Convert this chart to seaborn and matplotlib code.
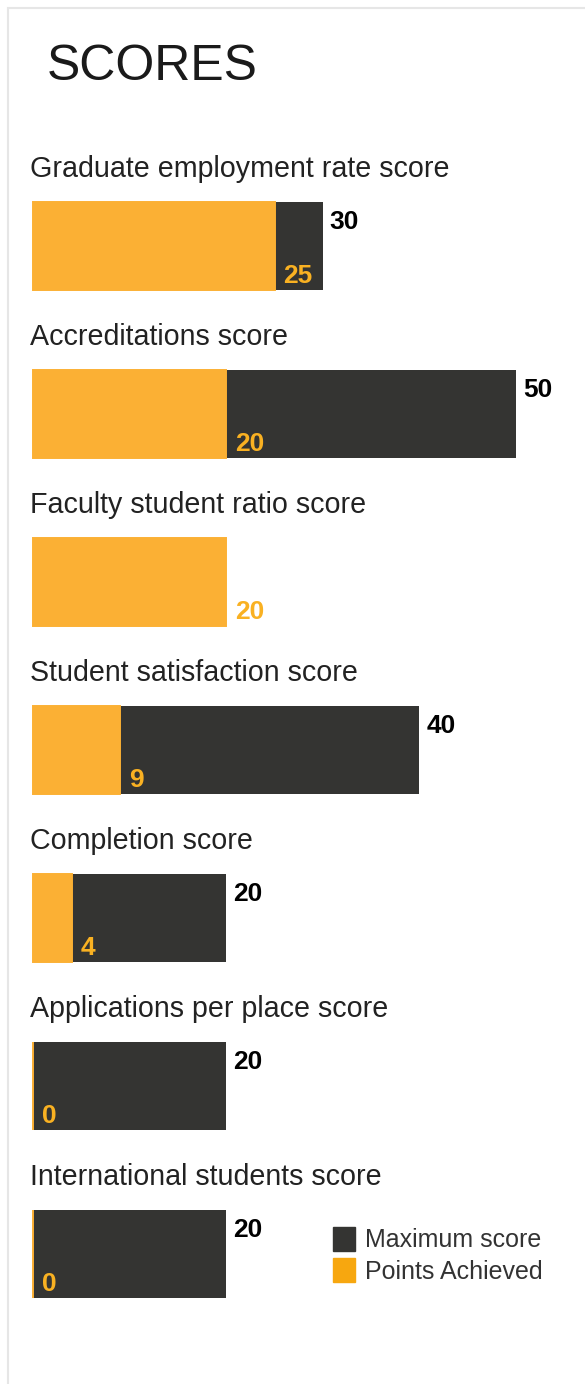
import matplotlib
matplotlib.use("Agg")
import matplotlib.pyplot as plt
from matplotlib.patches import Patch, Rectangle
import seaborn as sns
import pandas as pd

categories = ["Graduate employment rate score", "Accreditations score",
              "Faculty student ratio score", "Student satisfaction score",
              "Completion score", "Applications per place score",
              "International students score"]
max_scores = [30, 50, 20, 40, 20, 20, 20]
achieved = [25, 20, 20, 9, 4, 0, 0]
legend_labels = ["Maximum score", "Points Achieved"]
title = "SCORES"

dark = "#343432"
orange = "#FBB034"
orange_txt = "#F9B122"
orange_leg = "#F7A70F"

sns.set_theme(style="white")
plt.rcParams["font.family"] = ["Liberation Sans", "DejaVu Sans"]

df = pd.DataFrame({"cat": categories, "max": max_scores, "got": achieved})

W, H = 585, 1384
fig = plt.figure(figsize=(W / 100, H / 100), dpi=100)

# axes placed so that 0..50 spans pixel 33..516, rows 168 px apart
top_px, bot_px = 120, 1330
ax = fig.add_axes([33 / W, 1 - bot_px / H, 483 / W, (bot_px - top_px) / H])
bar_h = 88 / 168

sns.barplot(data=df, x="max", y="cat", color=dark, saturation=1, width=bar_h,
            orient="h", ax=ax, linewidth=0)
n_dark = len(ax.patches)
sns.barplot(data=df, x="got", y="cat", color=orange, saturation=1, width=bar_h,
            orient="h", ax=ax, edgecolor=orange, linewidth=1.4)
for p in ax.patches[n_dark:]:
    p.set_clip_on(False)

ax.set_xlim(0, 50)
ax.set_ylim((bot_px - 246) / 168, (top_px - 246) / 168)
ax.axis("off")

pt = 0.72
for i, (c, m, g) in enumerate(zip(categories, max_scores, achieved)):
    ax.annotate(c, xy=(0, i), xytext=(-3 * pt, 77 * pt), textcoords="offset points",
                ha="left", va="center", fontsize=20.6, color="#222222",
                annotation_clip=False)
    if m != g:
        ax.annotate(str(m), xy=(m, i - bar_h / 2), xytext=(7 * pt, -8 * pt),
                    textcoords="offset points", ha="left", va="top",
                    fontsize=19, fontweight="bold", color="black",
                    annotation_clip=False)
    ax.annotate(str(g), xy=(g, i + bar_h / 2), xytext=(9 * pt, 7 * pt),
                textcoords="offset points", ha="left", va="baseline",
                fontsize=19, fontweight="bold", color=orange_txt,
                annotation_clip=False)

fig.text(47 / W, 1 - 67 / H, title, fontsize=36, color="#1a1a1a",
         ha="left", va="center")

# panel border
fig.add_artist(Rectangle((8 / W, -0.1), 1.1, 1.1 - 8 / H,
                         transform=fig.transFigure, fill=False,
                         edgecolor="#e6e6e6", linewidth=1.5))

handles = [Patch(color=dark), Patch(color=orange_leg)]
fig.legend(handles, legend_labels, loc="upper left",
           bbox_to_anchor=(320 / W, 1 - 1214 / H), frameon=False,
           fontsize=18, handlelength=0.9, handleheight=1.1,
           handletextpad=0.4, labelspacing=0.25, labelcolor="#333333",
           borderpad=0)

fig.savefig("out.png", dpi=100)
